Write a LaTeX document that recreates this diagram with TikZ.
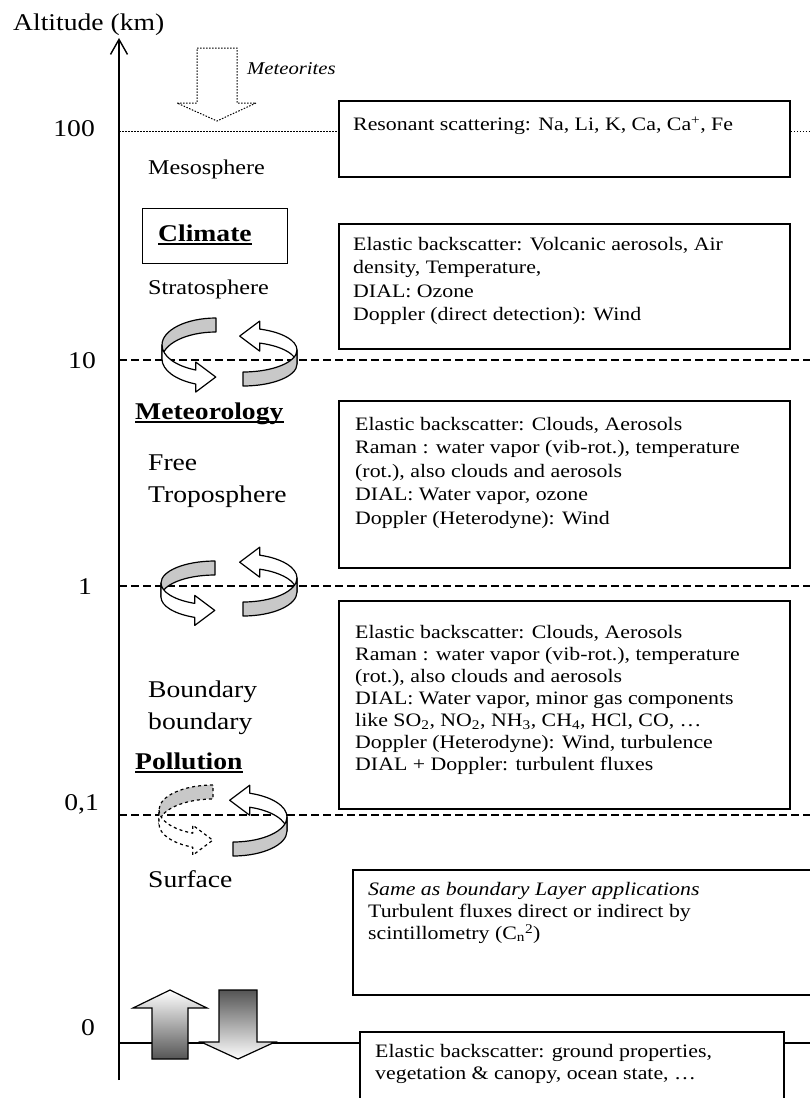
\documentclass[tikz,border=0pt]{standalone}
\usepackage{fontspec}
\setmainfont{Liberation Serif}[FakeStretch=1.15]
\usepackage{tikz}
\usetikzlibrary{
  arrows.meta,
  positioning,
  calc
}
\definecolor{bandgray}{HTML}{C8C8C8}
\definecolor{groundgray}{HTML}{555555}
% turning arrows: [style]{centre x}{centre y}{y radius}
\newcommand{\turnL}[4][]{%
  \filldraw[band, fill=bandgray, #1] (#2,#3) ++(0,-#4)
    arc[start angle=-90, end angle=-180, x radius=54, y radius=#4] -- ++(0,14)
    arc[start angle=180, end angle=270, x radius=54, y radius=#4] -- cycle;
  \filldraw[band, fill=white, #1] (#2,#3) ++(-54,0)
    arc[start angle=180, end angle=112, x radius=54, y radius=#4]
    -- ++(0,-8) -- ++(20,15) -- ++(-20,15) -- ++(0,-8)
    arc[start angle=112, end angle=180, x radius=54, y radius=#4] -- cycle;
}
\newcommand{\turnR}[4][]{%
  \filldraw[band, fill=white, #1] (#2,#3) ++(-72:54 and #4)
    arc[start angle=-72, end angle=0, x radius=54, y radius=#4] -- ++(0,14)
    arc[start angle=0, end angle=-72, x radius=54, y radius=#4]
    -- ++(0,8) -- ++(-20,-15) -- ++(20,-15) -- cycle;
  \filldraw[band, fill=bandgray, #1] (#2,#3) ++(54,0)
    arc[start angle=0, end angle=90, x radius=54, y radius=#4] -- ++(0,14)
    arc[start angle=90, end angle=0, x radius=54, y radius=#4] -- cycle;
}

\begin{document}
\begin{tikzpicture}[
  x=1pt, y=-1pt,
  lvl/.style={font=\fontsize{24}{30}\selectfont, inner sep=0pt, anchor=base east},
  layer/.style={font=\fontsize{24}{30}\selectfont, inner sep=0pt, anchor=base west},
  sublayer/.style={font=\fontsize{21}{26}\selectfont, inner sep=0pt, anchor=base west},
  topic/.style={font=\fontsize{24}{30}\selectfont\bfseries, inner sep=0pt, anchor=base west},
  uline/.style={line width=1.4pt},
  box/.style={draw, line width=1.8pt, inner sep=0pt, anchor=north west},
  boxtext/.style={font=\fontsize{19}{22}\selectfont, inner sep=0pt,
                  anchor=north west, align=left},
  band/.style={line width=1.2pt, line join=round},
  dashline/.style={line width=1.3pt, dash pattern=on 8pt off 4pt},
  dotline/.style={line width=1pt, dash pattern=on 1.5pt off 1.5pt},
  axis/.style={line width=1.4pt, -{Straight Barb[length=15pt, width=17pt]}},
]
  \useasboundingbox (0,0) rectangle (810,1098);
  \clip (0,0) rectangle (810,1098);
  \fill[white] (0,0) rectangle (810,1098);

  % Axis
  \coordinate (axbot) at (119,1080);
  \coordinate (axtop) at (119,38);
  \draw[axis] (axbot) -- (axtop);
  \node[layer] (alt) at (13,30) {Altitude (km)};

  % Method boxes
  \node[box, minimum width=451pt, minimum height=76pt] (resbox) at (338,100) {};
  \node[box, minimum width=451pt, minimum height=125pt] (stratbox) at (338,223) {};
  \node[box, minimum width=451pt, minimum height=167pt] (tropbox) at (338,400) {};
  \node[box, minimum width=451pt, minimum height=208pt] (blbox) at (338,600) {};
  \node[box, minimum width=500pt, minimum height=125pt] (surfbox) at (352,869) {};
  \node[box, minimum width=424pt, minimum height=100pt] (gbox) at (359,1031) {};

  % Altitude levels
  \coordinate (l100) at (119,131);
  \coordinate (l10) at (119,360);
  \coordinate (l1) at (119,586);
  \coordinate (l01) at (119,815);
  \coordinate (l0) at (119,1043);
  \draw[dotline] (l100) -- (l100 -| resbox.west);
  \draw[dotline] (l100 -| resbox.east) -- ++(40,0);
  \draw[dashline] (l10) -- ++(700,0);
  \draw[dashline] (l1) -- ++(700,0);
  \draw[dashline] (l01) -- ++(700,0);
  \draw[line width=1.2pt] (l0) -- (l0 -| gbox.west);
  \draw[line width=1.2pt] (l0 -| gbox.east) -- ++(40,0);

  \node[lvl] (n100) at (95,136) {100};
  \node[lvl] (n10) at (96,368) {10};
  \node[lvl] (n1) at (92,594) {1};
  \node[lvl] (n01) at (99,810) {0,1};
  \node[lvl] (n0) at (95,1035) {0};

  % Meteorites
  \filldraw[fill=white, dotline] (197,48) -- (237,48) -- (237,103) -- (256,103)
    -- (217,121) -- (177,103) -- (197,103) -- cycle;
  \node[font=\fontsize{18}{20}\selectfont\itshape, inner sep=0pt, anchor=base west]
    (met) at (247,74) {Meteorites};

  % Layers and topics
  \node[sublayer] (meso) at (148,174) {Mesosphere};
  \node[draw, line width=1.4pt, minimum width=145pt, minimum height=55pt,
        anchor=north west] (climbox) at (142,208) {};
  \node[topic] (clim) at (158,241) {Climate};
  \draw[uline] ([yshift=-3pt]clim.base west) -- ([yshift=-3pt]clim.base east);
  \node[sublayer] (strat) at (148,294) {Stratosphere};
  \node[topic] (meteo) at (135,419) {Meteorology};
  \draw[uline] ([yshift=-3pt]meteo.base west) -- ([yshift=-3pt]meteo.base east);
  \node[layer] (free) at (148,470) {Free};
  \node[layer] (tropo) at (148,502) {Troposphere};
  \node[layer] (bnd1) at (148,697) {Boundary};
  \node[layer] (bnd2) at (148,729) {boundary};
  \node[topic] (poll) at (135,769) {Pollution};
  \draw[uline] ([yshift=-3pt]poll.base west) -- ([yshift=-3pt]poll.base east);
  \node[layer] (surf) at (148,887) {Surface};

  % Exchange between layers
  \turnL{216}{345}{27}
  \turnR{243}{350}{22}
  \turnL{215}{583}{22}
  \turnR{243}{578}{24}
  \turnL[dashed]{213}{810}{25}
  \turnR{233}{817}{25}

  % Surface fluxes
  \shadedraw[top color=white, bottom color=groundgray, line width=1.2pt]
    (152,1059) -- (152,1008) -- (133,1008) -- (170,990) -- (207,1008)
    -- (188,1008) -- (188,1059) -- cycle;
  \shadedraw[top color=groundgray, bottom color=white, line width=1.2pt]
    (219,990) -- (257,990) -- (257,1042) -- (275,1042) -- (238,1059)
    -- (201,1042) -- (219,1042) -- cycle;

  % Box texts
  \node[boxtext] (t1) at (353,117)
    {Resonant scattering: Na, Li, K, Ca, Ca\textsuperscript{+}, Fe};
  \node[boxtext, font=\fontsize{19}{23.5}\selectfont] (t2) at (353,237)
    {Elastic backscatter: Volcanic aerosols, Air\\
     density, Temperature,\\
     DIAL: Ozone\\
     Doppler (direct detection): Wind};
  \node[boxtext, font=\fontsize{19}{23.5}\selectfont] (t3) at (355,417)
    {Elastic backscatter: Clouds, Aerosols\\
     Raman : water vapor (vib-rot.), temperature\\
     (rot.), also clouds and aerosols\\
     DIAL: Water vapor, ozone\\
     Doppler (Heterodyne): Wind};
  \node[boxtext] (t4) at (355,625)
    {Elastic backscatter: Clouds, Aerosols\\
     Raman : water vapor (vib-rot.), temperature\\
     (rot.), also clouds and aerosols\\
     DIAL: Water vapor, minor gas components\\
     like SO\textsubscript{2}, NO\textsubscript{2}, NH\textsubscript{3},
     CH\textsubscript{4}, HCl, CO, \ldots\\
     Doppler (Heterodyne): Wind, turbulence\\
     DIAL + Doppler: turbulent fluxes};
  \node[boxtext] (t5) at (368,882)
    {\textit{Same as boundary Layer applications}\\
     Turbulent fluxes direct or indirect by\\
     scintillometry (C\textsubscript{n}\textsuperscript{2})};
  \node[boxtext] (t6) at (375,1044)
    {Elastic backscatter: ground properties,\\
     vegetation \& canopy, ocean state, \ldots};

\end{tikzpicture}
\end{document}
